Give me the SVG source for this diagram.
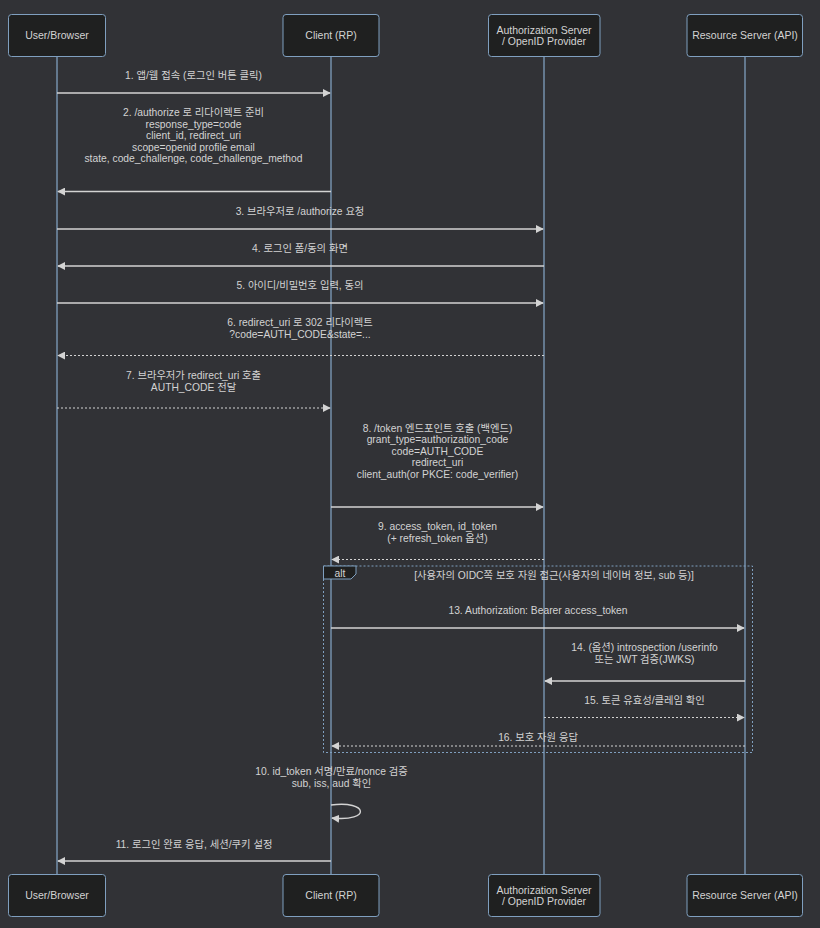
<svg xmlns="http://www.w3.org/2000/svg" width="820" height="928" viewBox="0 0 820 928">
<style>
.bg{fill:#313236}
.actor rect{fill:#1f2020;stroke:#7f9fbf;stroke-width:1}
.actor text{fill:#d3d3d3;font-family:"Liberation Sans",Arial,sans-serif;font-size:10.5px;text-anchor:middle}
.life{stroke:#7f9fbf;stroke-width:1.3}
.msg{stroke:#d3d3d3;stroke-width:1.4;fill:none}
.dot{stroke-dasharray:2,2;stroke-width:1.2}
.lbl{fill:#d3d3d3;font-family:"Liberation Sans","Noto Sans CJK KR",Arial,sans-serif;font-size:10.3px;text-anchor:middle}
.loop{fill:none;stroke:#7f9fbf;stroke-width:1;stroke-dasharray:2,2}
</style>
<defs>
<marker id="ah" viewBox="0 0 10 10" refX="9" refY="5" markerWidth="8" markerHeight="8" markerUnits="userSpaceOnUse" orient="auto">
<path d="M0,0 L10,5 L0,10 z" fill="#d3d3d3"/>
</marker>
</defs>
<rect class="bg" x="0" y="0" width="820" height="928"/>

<g id="lifelines">
<line class="life" x1="57" y1="56" x2="57" y2="874"/>
<line class="life" x1="331" y1="56" x2="331" y2="874"/>
<line class="life" x1="544" y1="56" x2="544" y2="874"/>
<line class="life" x1="745" y1="56" x2="745" y2="874"/>
</g>

<g id="actor-user-top" class="actor"><rect x="8.5" y="14.5" width="97" height="42" rx="3"/><text x="57" y="39">User/Browser</text></g>
<g id="actor-client-top" class="actor"><rect x="283" y="14.5" width="96" height="42" rx="3"/><text x="331" y="39">Client (RP)</text></g>
<g id="actor-auth-top" class="actor"><rect x="488.5" y="14.5" width="111.5" height="42" rx="3"/><text x="544" y="34">Authorization Server</text><text x="544" y="45">/ OpenID Provider</text></g>
<g id="actor-resource-top" class="actor"><rect x="687" y="14.5" width="115.5" height="42" rx="3"/><text x="745" y="39">Resource Server (API)</text></g>

<g id="actor-user-bottom" class="actor"><rect x="8.5" y="874.5" width="97" height="42" rx="3"/><text x="57" y="899">User/Browser</text></g>
<g id="actor-client-bottom" class="actor"><rect x="283" y="874.5" width="96" height="42" rx="3"/><text x="331" y="899">Client (RP)</text></g>
<g id="actor-auth-bottom" class="actor"><rect x="488.5" y="874.5" width="111.5" height="42" rx="3"/><text x="544" y="894">Authorization Server</text><text x="544" y="905">/ OpenID Provider</text></g>
<g id="actor-resource-bottom" class="actor"><rect x="687" y="874.5" width="115.5" height="42" rx="3"/><text x="745" y="899">Resource Server (API)</text></g>

<g id="alt-frame">
<rect class="loop" x="323.5" y="566" width="429" height="186.5"/>
<polygon points="323.5,566 356,566 356,574 351,579 323.5,579" fill="#1f2020" stroke="#7f9fbf" stroke-width="1"/>
<text class="lbl" x="340" y="577">alt</text>
<text class="lbl" x="554" y="579">[사용자의 OIDC쪽 보호 자원 접근(사용자의 네이버 정보, sub 등)]</text>
</g>

<g id="connectors">
<line class="msg" x1="57" y1="93" x2="330" y2="93" marker-end="url(#ah)"/>
<line class="msg" x1="331" y1="191.5" x2="58" y2="191.5" marker-end="url(#ah)"/>
<line class="msg" x1="57" y1="229" x2="543" y2="229" marker-end="url(#ah)"/>
<line class="msg" x1="544" y1="266" x2="58" y2="266" marker-end="url(#ah)"/>
<line class="msg" x1="57" y1="303" x2="543" y2="303" marker-end="url(#ah)"/>
<line class="msg dot" x1="544" y1="355.5" x2="58" y2="355.5" marker-end="url(#ah)"/>
<line class="msg dot" x1="57" y1="408" x2="330" y2="408" marker-end="url(#ah)"/>
<line class="msg" x1="331" y1="507" x2="543" y2="507" marker-end="url(#ah)"/>
<line class="msg dot" x1="544" y1="559.5" x2="332" y2="559.5" marker-end="url(#ah)"/>
<line class="msg" x1="331" y1="628" x2="744" y2="628" marker-end="url(#ah)"/>
<line class="msg" x1="745" y1="681" x2="545" y2="681" marker-end="url(#ah)"/>
<line class="msg dot" x1="544" y1="717.5" x2="744" y2="717.5" marker-end="url(#ah)"/>
<line class="msg dot" x1="745" y1="746" x2="332" y2="746" marker-end="url(#ah)"/>
<path class="msg" d="M331,805 C368,800 372,822 332,818" marker-end="url(#ah)"/>
<line class="msg" x1="331" y1="861" x2="58" y2="861" marker-end="url(#ah)"/>
</g>

<g id="labels">
<text class="lbl" x="193.5" y="79">1. 앱/웹 접속 (로그인 버튼 클릭)</text>
<text class="lbl" x="193.5" y="116">2. /authorize 로 리다이렉트 준비</text>
<text class="lbl" x="193.5" y="127.5">response_type=code</text>
<text class="lbl" x="193.5" y="139">client_id, redirect_uri</text>
<text class="lbl" x="193.5" y="150.5">scope=openid profile email</text>
<text class="lbl" x="193.5" y="162">state, code_challenge, code_challenge_method</text>
<text class="lbl" x="300" y="215">3. 브라우저로 /authorize 요청</text>
<text class="lbl" x="300" y="252">4. 로그인 폼/동의 화면</text>
<text class="lbl" x="300" y="289">5. 아이디/비밀번호 입력, 동의</text>
<text class="lbl" x="300" y="326">6. redirect_uri 로 302 리다이렉트</text>
<text class="lbl" x="300" y="337.5">?code=AUTH_CODE&amp;state=...</text>
<text class="lbl" x="193.5" y="379">7. 브라우저가 redirect_uri 호출</text>
<text class="lbl" x="193.5" y="390.5">AUTH_CODE 전달</text>
<text class="lbl" x="437.5" y="431.5">8. /token 엔드포인트 호출 (백엔드)</text>
<text class="lbl" x="437.5" y="443">grant_type=authorization_code</text>
<text class="lbl" x="437.5" y="454.5">code=AUTH_CODE</text>
<text class="lbl" x="437.5" y="466">redirect_uri</text>
<text class="lbl" x="437.5" y="477.5">client_auth(or PKCE: code_verifier)</text>
<text class="lbl" x="437.5" y="530">9. access_token, id_token</text>
<text class="lbl" x="437.5" y="541.5">(+ refresh_token 옵션)</text>
<text class="lbl" x="538" y="614">13. Authorization: Bearer access_token</text>
<text class="lbl" x="644.5" y="651">14. (옵션) introspection /userinfo</text>
<text class="lbl" x="644.5" y="662.5">또는 JWT 검증(JWKS)</text>
<text class="lbl" x="644.5" y="704">15. 토큰 유효성/클레임 확인</text>
<text class="lbl" x="538" y="741">16. 보호 자원 응답</text>
<text class="lbl" x="331.5" y="775">10. id_token 서명/만료/nonce 검증</text>
<text class="lbl" x="331.5" y="787">sub, iss, aud 확인</text>
<text class="lbl" x="194" y="847.5">11. 로그인 완료 응답, 세션/쿠키 설정</text>
</g>
</svg>
